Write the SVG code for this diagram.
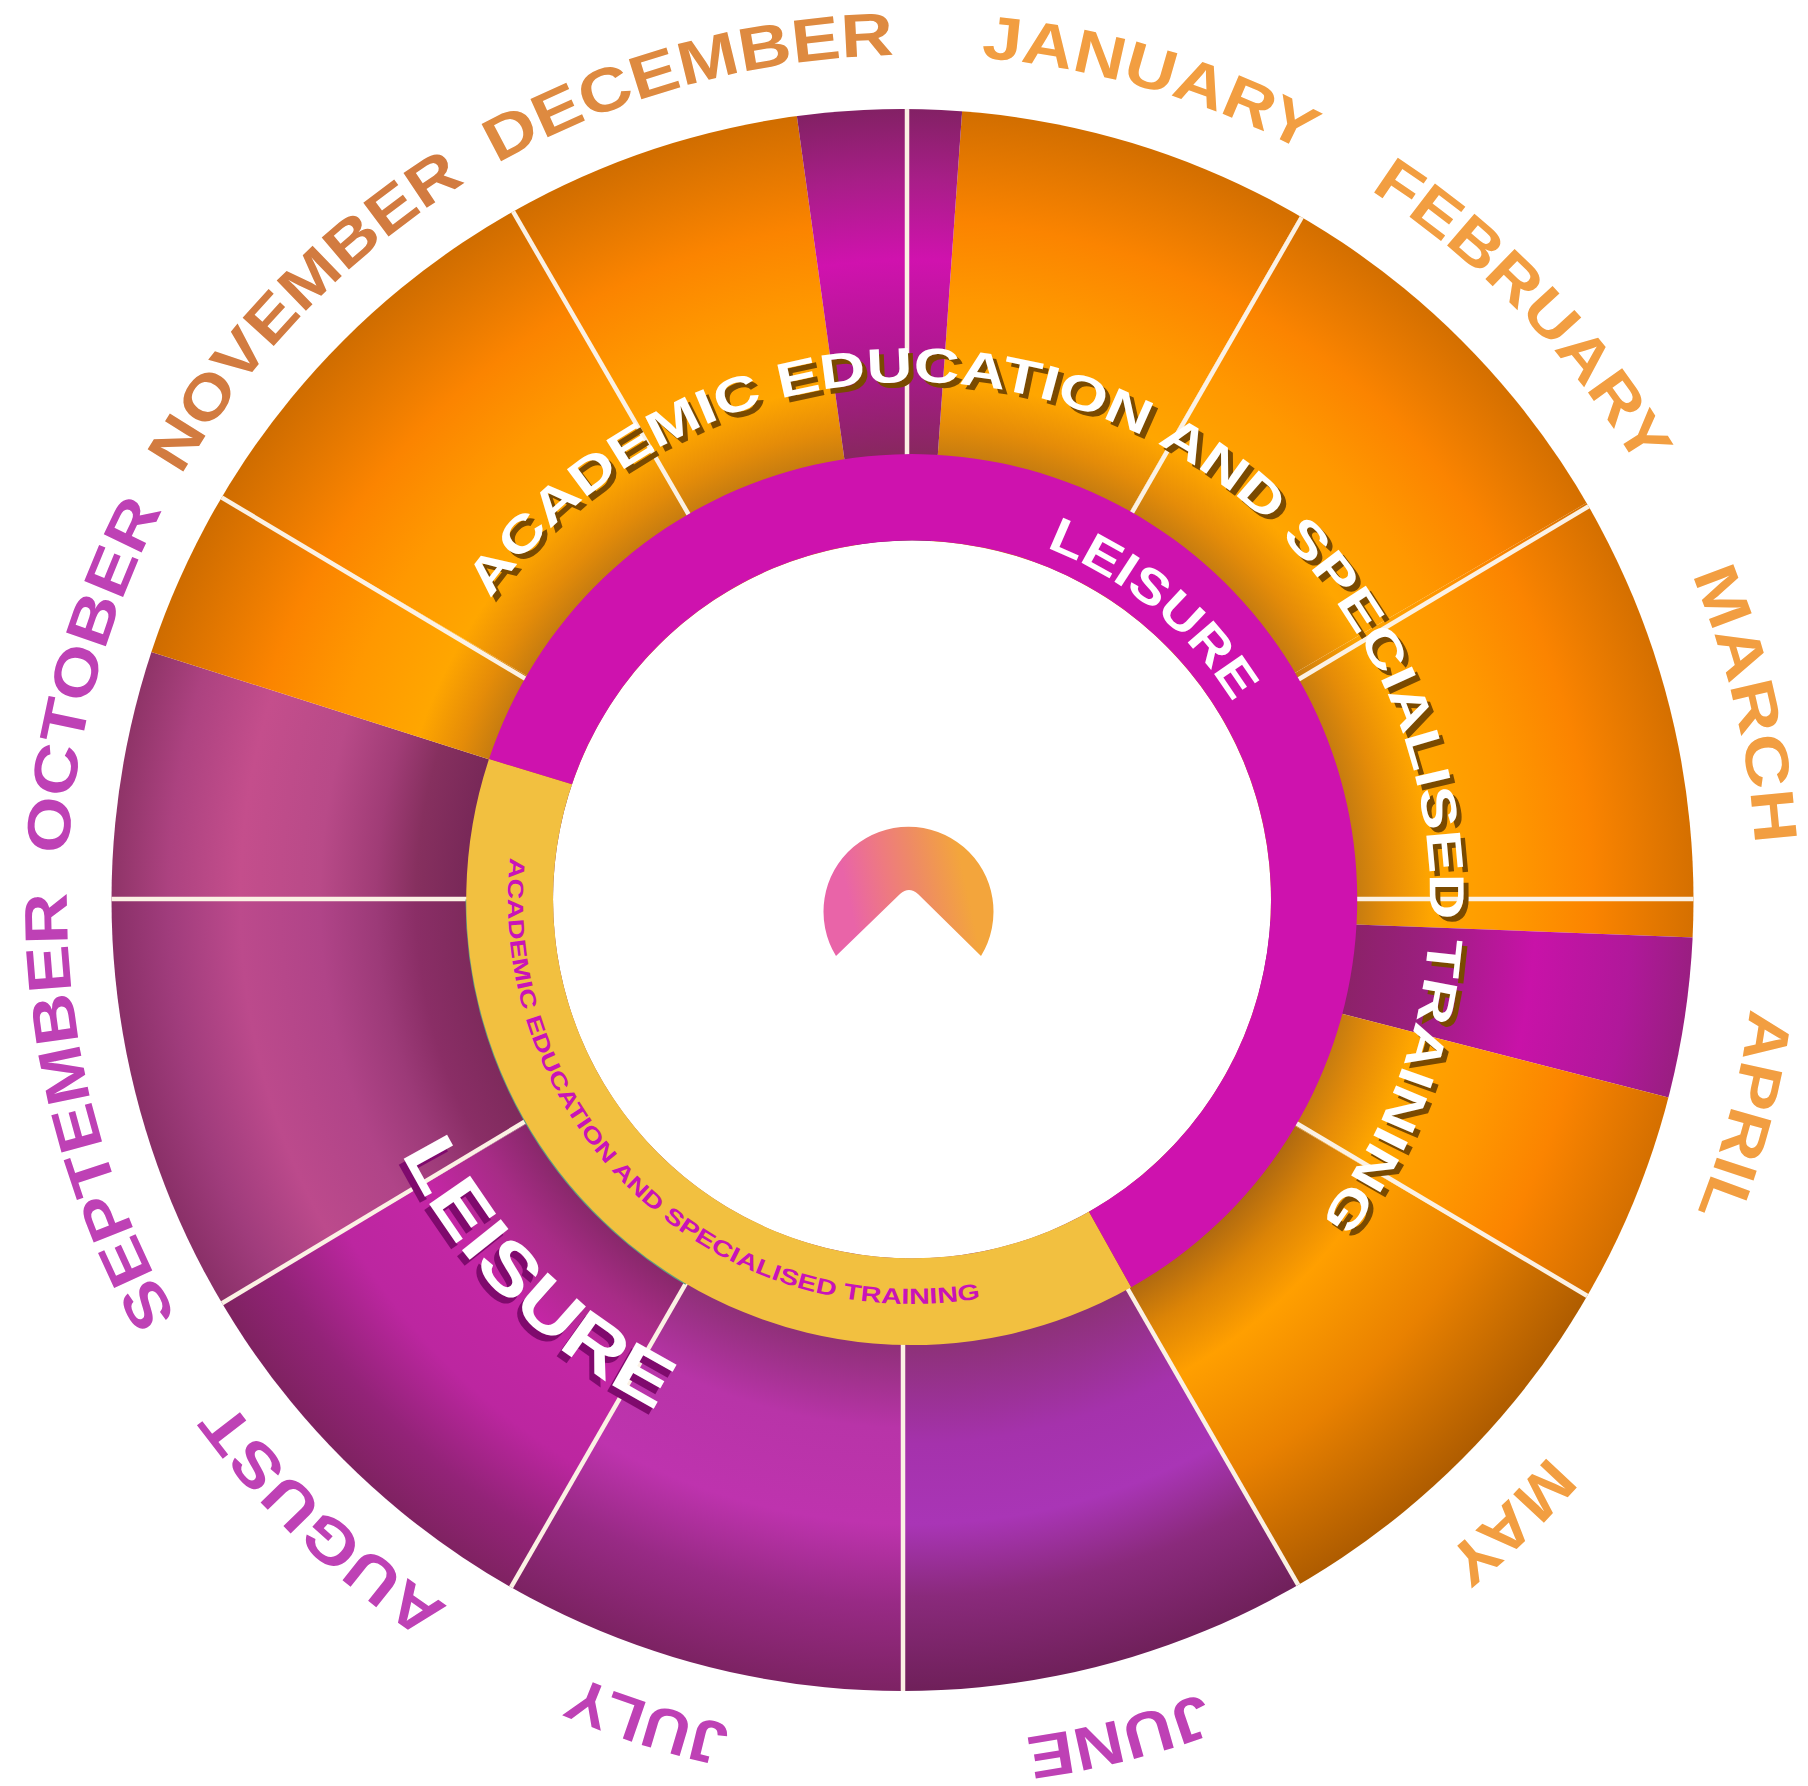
<svg xmlns="http://www.w3.org/2000/svg" width="1808" height="1786" viewBox="0 0 1808 1786">
<style>
text{font-family:"Liberation Sans",Arial,sans-serif;font-weight:700}
.m{font-size:61px}
.o{fill:#F29E41}.p{fill:#BE41B5}
.sep{stroke:#FBF1E4;stroke-width:4.5;fill:none}
.big{font-size:49px}
.lei{font-size:72px}
</style>
<defs>
<clipPath id="disc"><circle cx="902.5" cy="900" r="791"/></clipPath>
<path id="cw845" d="M912 55a845 845 0 1 1 0 1690a845 845 0 1 1 0-1690"/>
<path id="cw518" d="M394 900a518 518 0 1 1 1036 0a518 518 0 1 1-1036 0"/>
<path id="cw377" d="M912 523a377 377 0 1 1 0 754a377 377 0 1 1 0-754"/>
<path id="ccw570" d="M912 330a570 570 0 1 0 0 1140a570 570 0 1 0 0-1140"/>
<path id="ccw404" d="M912 496a404 404 0 1 0 0 808a404 404 0 1 0 0-808"/>
<radialGradient id="gO" gradientUnits="userSpaceOnUse" cx="912" cy="900" r="800">
<stop offset=".556" stop-color="#C67C10"/><stop offset=".595" stop-color="#E58C08"/><stop offset=".65" stop-color="#FFA600"/><stop offset=".75" stop-color="#FF9800"/><stop offset=".85" stop-color="#FB8400"/><stop offset="1" stop-color="#CE6C00"/></radialGradient>
<radialGradient id="gMay" gradientUnits="userSpaceOnUse" cx="912" cy="900" r="800">
<stop offset=".556" stop-color="#B06A10"/><stop offset=".61" stop-color="#DC8406"/><stop offset=".68" stop-color="#FF9F00"/><stop offset=".82" stop-color="#E98100"/><stop offset="1" stop-color="#A85800"/></radialGradient>
<radialGradient id="gDec" gradientUnits="userSpaceOnUse" cx="912" cy="900" r="800">
<stop offset=".556" stop-color="#87285E"/><stop offset=".66" stop-color="#A8198A"/><stop offset=".8" stop-color="#D012AE"/><stop offset=".9" stop-color="#A81E88"/><stop offset="1" stop-color="#7E2160"/></radialGradient>
<radialGradient id="gApr" gradientUnits="userSpaceOnUse" cx="912" cy="900" r="800">
<stop offset=".556" stop-color="#8C2269"/><stop offset=".65" stop-color="#9C1F80"/><stop offset=".78" stop-color="#C812A8"/><stop offset=".9" stop-color="#B0189A"/><stop offset="1" stop-color="#93207A"/></radialGradient>
<radialGradient id="gJun" gradientUnits="userSpaceOnUse" cx="912" cy="900" r="800">
<stop offset=".556" stop-color="#8D3178"/><stop offset=".68" stop-color="#A532AC"/><stop offset=".78" stop-color="#A935B6"/><stop offset=".87" stop-color="#8A2A7C"/><stop offset="1" stop-color="#6C1F56"/></radialGradient>
<radialGradient id="gJul" gradientUnits="userSpaceOnUse" cx="912" cy="900" r="800">
<stop offset=".556" stop-color="#8F3078"/><stop offset=".66" stop-color="#B834A8"/><stop offset=".78" stop-color="#BE33AE"/><stop offset=".88" stop-color="#982A85"/><stop offset="1" stop-color="#7A2260"/></radialGradient>
<radialGradient id="gAug" gradientUnits="userSpaceOnUse" cx="912" cy="900" r="800">
<stop offset=".556" stop-color="#88286A"/><stop offset=".62" stop-color="#A72C86"/><stop offset=".7" stop-color="#C426A5"/><stop offset=".82" stop-color="#BC26A0"/><stop offset=".92" stop-color="#932378"/><stop offset="1" stop-color="#7E2260"/></radialGradient>
<radialGradient id="gSep" gradientUnits="userSpaceOnUse" cx="912" cy="900" r="800">
<stop offset=".556" stop-color="#7E2A5C"/><stop offset=".62" stop-color="#8A2E66"/><stop offset=".67" stop-color="#9C3A78"/><stop offset=".74" stop-color="#B04488"/><stop offset=".84" stop-color="#BC4A8C"/><stop offset=".93" stop-color="#A03C7C"/><stop offset="1" stop-color="#8A3068"/></radialGradient>
<radialGradient id="gOct" gradientUnits="userSpaceOnUse" cx="912" cy="900" r="800">
<stop offset=".556" stop-color="#782858"/><stop offset=".62" stop-color="#86305F"/><stop offset=".67" stop-color="#A03C76"/><stop offset=".74" stop-color="#B84A88"/><stop offset=".84" stop-color="#C44E8C"/><stop offset=".93" stop-color="#AC4280"/><stop offset="1" stop-color="#8F3468"/></radialGradient>
<linearGradient id="gHub" gradientUnits="userSpaceOnUse" x1="850" y1="905" x2="965" y2="880">
<stop offset="0" stop-color="#E964A8"/><stop offset=".35" stop-color="#EE7A80"/><stop offset=".6" stop-color="#EE8A66"/><stop offset="1" stop-color="#F3A53C"/></linearGradient>
</defs>
<rect width="1808" height="1786" fill="#fff"/>
<g id="sectors" clip-path="url(#disc)">
<path id="s-jan" fill="url(#gO)" d="M906 904L969 14L1357 117L907 899Z"/>
<path id="s-feb" fill="url(#gO)" d="M907 899L1357 117L1686 445Z"/>
<path id="s-mar" fill="url(#gO)" d="M907 899L1686 445L1807 899Z"/>
<path id="s-apr-a" fill="url(#gO)" d="M907 899L1807 899L1807 942L906 907Z"/>
<path id="s-apr-w" fill="url(#gApr)" d="M906 907L1807 942L1807 1133L906 902Z"/>
<path id="s-apr-b" fill="url(#gO)" d="M906 902L1807 1133L1680 1351L907 899Z"/>
<path id="s-may" fill="url(#gMay)" d="M907 899L1680 1351L1351 1678Z"/>
<path id="s-jun" fill="url(#gJun)" d="M907 899L1351 1678L903 1799Z"/>
<path id="s-jul" fill="url(#gJul)" d="M907 899L903 1799L453 1689.5Z"/>
<path id="s-aug" fill="url(#gAug)" d="M907 899L453 1689.5L135 1355Z"/>
<path id="s-sep" fill="url(#gSep)" d="M907 899L135 1355L7 899Z"/>
<path id="s-oct-p" fill="url(#gOct)" d="M907 899L7 899L7 606L906 892Z"/>
<path id="s-oct" fill="url(#gO)" d="M906 892L7 606L125 440L907 899Z"/>
<path id="s-nov" fill="url(#gO)" d="M907 899L125 440L455 110Z"/>
<path id="s-dec" fill="url(#gO)" d="M907 899L455 110L782 9L906 904Z"/>
<path id="s-dec-w" fill="url(#gDec)" d="M906 904L782 9L969 14Z"/>
</g>
<g id="separators" clip-path="url(#disc)" class="sep">
<path d="M907 100V470"/>
<path d="M1312 199.5L1120 533.5"/>
<path d="M1600 499.5L1280 690.5"/>
<path d="M1700 899H1340"/>
<path d="M1600 1303.5L1280 1113.5"/>
<path d="M1310 1605.5L1120 1275.5"/>
<path d="M903 1710V1330"/>
<path d="M500 1606.5L695 1267.5"/>
<path d="M210 1310.5L540 1112.5"/>
<path d="M100 899H480"/>
<path d="M210 490.5L540 687.5"/>
<path d="M502 192.5L695 525.5"/>
</g>
<g id="ring">
<circle cx="912" cy="899.5" r="359" fill="#fff"/>
<path d="M686 1284A445.5 445.5 0 0 1 466.5 899.5" fill="none" stroke="#5FA080" stroke-width="2"/>
<path id="ring-yellow" fill="#F2C040" d="M1131.2 1287.3A445.5 445.5 0 0 1 489 759L572 784.3A359 359 0 0 0 1089 1211.7Z"/>
<path id="ring-magenta" fill="#CE12AE" d="M489 759A445.5 445.5 0 1 1 1131.2 1287.3L1089 1211.7A359 359 0 1 0 572 784.3Z"/>
</g>
<path id="hub" fill="url(#gHub)" d="M836 956A85 85 0 1 1 981 956L918 894Q909 886 900 894Z"/>
<g id="months" class="m">
<text class="o"><textPath href="#cw845" startOffset="69" textLength="340" lengthAdjust="spacingAndGlyphs">JANUARY</textPath></text>
<text class="o"><textPath href="#cw845" startOffset="484" textLength="390" lengthAdjust="spacingAndGlyphs">FEBRUARY</textPath></text>
<text class="o"><textPath href="#cw845" startOffset="993" textLength="279" lengthAdjust="spacingAndGlyphs">MARCH</textPath></text>
<text class="o"><textPath href="#cw845" startOffset="1436" textLength="211" lengthAdjust="spacingAndGlyphs">APRIL</textPath></text>
<text class="o"><textPath href="#cw845" startOffset="1933" textLength="147" lengthAdjust="spacingAndGlyphs">MAY</textPath></text>
<text class="p"><textPath href="#cw845" startOffset="2358" textLength="183" lengthAdjust="spacingAndGlyphs">JUNE</textPath></text>
<text class="p"><textPath href="#cw845" startOffset="2837" textLength="162" lengthAdjust="spacingAndGlyphs">JULY</textPath></text>
<text class="p"><textPath href="#cw845" startOffset="3145" textLength="303" lengthAdjust="spacingAndGlyphs">AUGUST</textPath></text>
<text class="p"><textPath href="#cw845" startOffset="3546" textLength="443" lengthAdjust="spacingAndGlyphs">SEPTEMBER</textPath></text>
<text class="p"><textPath href="#cw845" startOffset="4027" textLength="360" lengthAdjust="spacingAndGlyphs">OCTOBER</textPath></text>
<text fill="#D27B40"><textPath href="#cw845" startOffset="4426" textLength="413" lengthAdjust="spacingAndGlyphs">NOVEMBER</textPath></text>
<text fill="#DE8A40"><textPath href="#cw845" startOffset="4875" textLength="416" lengthAdjust="spacingAndGlyphs">DECEMBER</textPath></text>
</g>
<g id="label-academic" class="big">
<text fill="#7A4A00" transform="translate(5 5)"><textPath href="#cw518" startOffset="321" textLength="1650" lengthAdjust="spacingAndGlyphs">ACADEMIC EDUCATION AND SPECIALISED TRAINING</textPath></text>
<text fill="#fff"><textPath href="#cw518" startOffset="321" textLength="1650" lengthAdjust="spacingAndGlyphs">ACADEMIC EDUCATION AND SPECIALISED TRAINING</textPath></text>
</g>
<g id="label-leisure-left" class="lei">
<text fill="#7F0A6D" transform="translate(-5 6)"><textPath href="#ccw570" startOffset="1158" textLength="368" lengthAdjust="spacingAndGlyphs">LEISURE</textPath></text>
<text fill="#fff"><textPath href="#ccw570" startOffset="1158" textLength="368" lengthAdjust="spacingAndGlyphs">LEISURE</textPath></text>
</g>
<text id="label-leisure-ring" fill="#fff" font-size="49"><textPath href="#cw377" startOffset="137" textLength="247" lengthAdjust="spacingAndGlyphs">LEISURE</textPath></text>
<text id="label-ring-academic" fill="#C913B8" font-size="22"><textPath href="#ccw404" startOffset="592" textLength="746" lengthAdjust="spacingAndGlyphs">ACADEMIC EDUCATION AND SPECIALISED TRAINING</textPath></text>
</svg>
